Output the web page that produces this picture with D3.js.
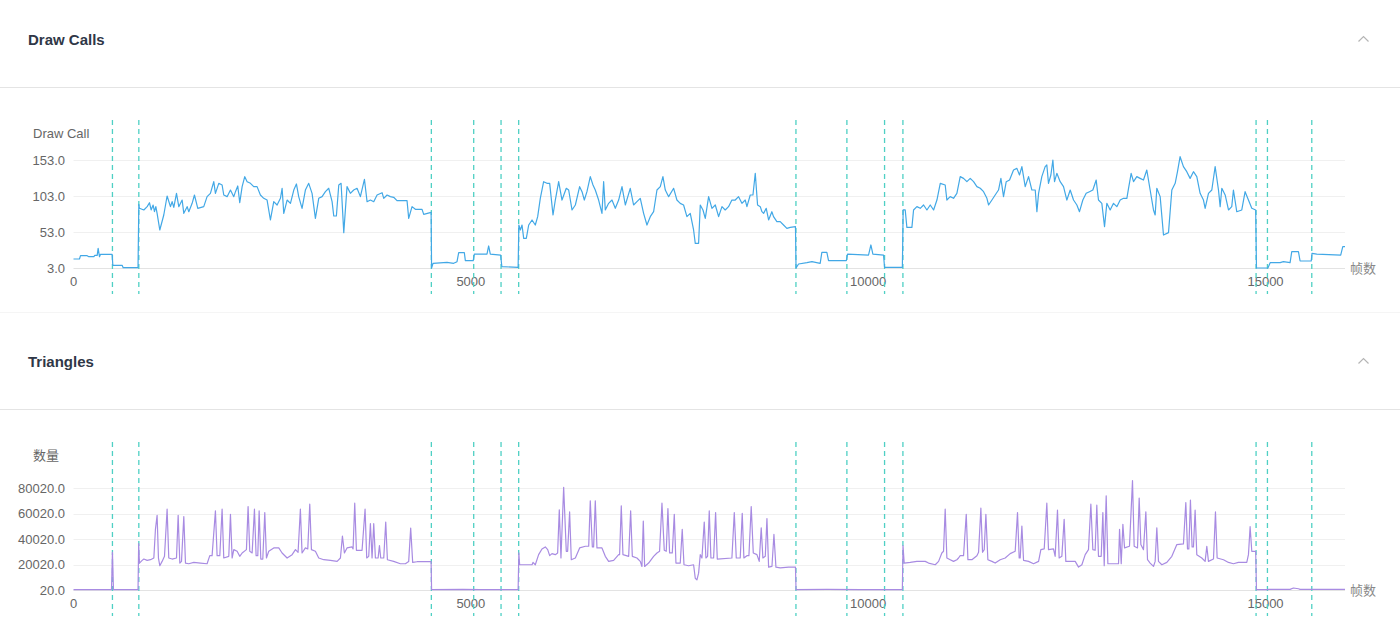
<!DOCTYPE html>
<html>
<head>
<meta charset="utf-8">
<script src="https://cdn.jsdelivr.net/npm/d3@7/dist/d3.min.js"></script>
<style>
  html, body { margin: 0; padding: 0; background: #fff; }
  svg { display: block; }
  text { font-family: "Liberation Sans", Arial, "Noto Sans CJK SC", sans-serif; }
</style>
</head>
<body>
<svg id="chart" width="1400" height="625"></svg>
<script>
// ---------------- data ----------------
const frameTicks = [0, 5000, 10000, 15000];
const frameMax = 16000;
const markerFrames = [490, 822, 4503, 5036, 5380, 5602, 9091, 9732, 10206, 10437, 14881, 15024, 15582];

const drawCallTicks = [3, 53, 103, 153];
const triangleTicks = [20, 20020, 40020, 60020, 80020];

const panelTitles = ["Draw Calls", "Triangles"];
const yAxisNames = ["Draw Call", "数量"];
const xAxisName = "帧数";

// [frame, draw calls]
const drawCallData = [
[0,15.5],[75,15.5],[88,20.1],[172,20.1],[193,18.7],[256,18.7],[268,20.6],[298,20.6],[310,30.3],[327,18.7],[340,22],[486,22],[495,6.7],[612,6.7],[625,3.5],[812,3.5],[822,91.4],[830,85.9],[885,83.6],[927,88.2],[956,93.7],[977,83.6],[1002,90.5],[1019,81.2],[1036,88.2],[1052,78.9],[1086,55.8],[1136,76.6],[1178,103],[1220,88.2],[1241,95.1],[1262,87.3],[1296,106.7],[1325,88.2],[1367,97.4],[1388,78.9],[1430,88.2],[1451,81.2],[1493,92.8],[1522,104.4],[1564,85.9],[1639,88.2],[1681,102.1],[1723,106.7],[1765,122.9],[1786,106.7],[1828,120.6],[1870,118.3],[1891,104.4],[1933,102.1],[1975,111.3],[2017,102.1],[2038,109],[2067,116.9],[2092,93.7],[2122,116],[2155,129.9],[2185,122.9],[2227,120.6],[2268,116],[2310,116],[2352,104.4],[2394,99.8],[2436,97.4],[2478,69.7],[2520,95.1],[2562,90.5],[2604,99.8],[2625,113.7],[2646,78.9],[2688,97.4],[2730,92.8],[2772,111.3],[2805,119.7],[2834,102.1],[2876,85.9],[2918,111.3],[2960,120.6],[3002,106.7],[3044,72],[3086,99.8],[3128,102.1],[3170,109],[3212,113.7],[3254,95.1],[3275,75.2],[3308,75.2],[3338,118.3],[3367,120.6],[3401,52.1],[3442,116],[3484,106.7],[3526,111.3],[3568,113.7],[3610,102.1],[3661,126.2],[3694,95.1],[3736,97.4],[3778,95.1],[3820,104.4],[3883,107.6],[3904,99.8],[3946,104.4],[3987,102.1],[4029,101.2],[4071,96.5],[4197,96.5],[4218,72],[4260,88.2],[4302,84.5],[4386,84.5],[4407,77.5],[4500,80.3],[4506,3],[4524,9.5],[4700,10.9],[4784,9.5],[4826,11.8],[4847,24.3],[4918,24.3],[4931,13.2],[5030,13.2],[5044,22.4],[5203,22.4],[5224,33.6],[5245,22.4],[5375,21],[5390,4.9],[5595,3.9],[5604,62.7],[5623,55.8],[5644,62.7],[5665,44.2],[5698,44.2],[5728,62.7],[5770,69.7],[5811,62.7],[5841,74.3],[5874,99.8],[5916,122.9],[5958,120.6],[5992,120.6],[6034,76.6],[6063,97.4],[6105,122.9],[6147,97.4],[6201,113.7],[6231,111.3],[6273,83.6],[6315,90.5],[6369,116],[6399,109],[6428,97.4],[6461,109],[6503,129.9],[6537,118.3],[6566,111.3],[6608,97.4],[6650,78.9],[6671,122.9],[6692,83.6],[6734,92.8],[6776,97.4],[6818,85.9],[6860,97.4],[6902,116],[6944,90.5],[7006,113.7],[7048,90.5],[7090,95.1],[7132,99.8],[7174,78.9],[7216,62.7],[7258,74.3],[7300,81.2],[7342,111.3],[7384,116],[7417,129.9],[7447,111.3],[7489,102.1],[7552,113.7],[7593,97.4],[7635,92.8],[7677,90.5],[7719,74.3],[7761,78.9],[7803,55.8],[7824,37.3],[7866,37.3],[7887,90.5],[7921,83.6],[7950,72],[7992,102.1],[8034,85.9],[8076,90.5],[8118,74.3],[8160,88.2],[8201,83.6],[8243,88.2],[8285,97.4],[8327,97.4],[8369,102.1],[8411,92.8],[8453,97.4],[8474,88.2],[8516,104.4],[8550,104.4],[8579,134.5],[8608,90.5],[8642,88.2],[8663,81.2],[8684,78.9],[8717,85.9],[8747,69.7],[8788,81.2],[8809,74.3],[8851,67.4],[8893,67.4],[8935,62.7],[8977,58.1],[9019,59.5],[9085,60.4],[9092,3],[9124,8.6],[9229,10.4],[9292,11.8],[9396,9.5],[9417,24.8],[9480,24.8],[9501,13.2],[9725,13.2],[9740,22.4],[10004,21],[10034,35],[10059,22.4],[10193,21],[10206,3.9],[10430,3.9],[10440,83.6],[10466,83.6],[10487,59.5],[10550,59.5],[10571,83.6],[10613,88.2],[10655,85.9],[10697,90.5],[10739,83.6],[10781,90.5],[10823,83.6],[10865,97.4],[10907,120.6],[10969,118.3],[10990,97.4],[11032,102.1],[11074,99.8],[11116,106.7],[11158,129.9],[11200,127.5],[11242,122.9],[11284,127.5],[11326,122.9],[11368,116],[11410,113.7],[11452,109],[11494,99.8],[11515,90.5],[11557,97.4],[11598,104.4],[11640,111.3],[11670,127.5],[11703,102.1],[11737,122.9],[11779,125.2],[11829,139.1],[11871,141.4],[11904,132.2],[11934,143.8],[11976,116],[12018,129.9],[12060,111.3],[12102,111.3],[12123,81.2],[12144,106.7],[12185,129.9],[12227,143.8],[12248,146.1],[12269,120.6],[12299,132.2],[12324,153],[12345,122.9],[12374,134.5],[12416,122.9],[12458,116],[12500,97.4],[12542,111.3],[12584,97.4],[12626,90.5],[12659,81.2],[12701,97.4],[12743,106.7],[12785,109],[12827,111.3],[12869,125.2],[12898,97.4],[12940,92.8],[12974,60.4],[13003,92.8],[13045,83.6],[13087,92.8],[13129,88.2],[13171,97.4],[13213,99.8],[13255,99.8],[13276,113.7],[13309,134.5],[13339,122.9],[13380,129.9],[13422,127.5],[13464,125.2],[13506,139.1],[13548,111.3],[13590,83.6],[13611,76.6],[13632,113.7],[13674,102.1],[13716,48.8],[13779,52.1],[13821,111.3],[13863,120.6],[13892,136.8],[13925,157.6],[13967,143.8],[14009,136.8],[14051,127.5],[14093,136.8],[14135,129.9],[14177,106.7],[14219,97.4],[14240,85.9],[14282,106.7],[14324,111.3],[14366,143.8],[14408,111.3],[14429,88.2],[14450,113.7],[14492,104.4],[14534,83.6],[14575,88.2],[14596,111.3],[14638,81.2],[14701,83.6],[14743,109],[14785,97.4],[14827,85.9],[14876,83.6],[14886,3],[15030,3],[15058,10.4],[15184,10.4],[15225,11.8],[15309,10.4],[15330,25.7],[15414,25.7],[15435,12.7],[15575,12.7],[15585,23.4],[15645,22.4],[15946,21],[15972,32.6],[16000,32.6]
];

// [frame, triangles]
const triangleData = [
[0,300],[478,300],[490,29500],[503,300],[812,300],[820,36450],[830,21140],[864,23250],[885,24300],[927,23250],[969,23780],[1011,25100],[1031,47540],[1052,58630],[1069,25100],[1086,19030],[1115,22460],[1145,26420],[1178,63380],[1199,25100],[1241,24300],[1296,25100],[1317,58630],[1338,21140],[1359,22460],[1388,57570],[1409,21140],[1451,20610],[1514,21660],[1598,21140],[1681,20610],[1715,26950],[1744,26950],[1786,62060],[1807,26950],[1841,26950],[1870,63380],[1891,25100],[1954,26420],[1975,59420],[1996,25100],[2017,31700],[2059,30380],[2092,26420],[2122,29060],[2176,31700],[2197,65490],[2218,30380],[2248,29060],[2277,63380],[2298,26950],[2319,26950],[2336,62060],[2357,24300],[2382,24300],[2407,60740],[2428,25100],[2457,30380],[2520,33020],[2583,33020],[2625,29060],[2688,25100],[2751,27740],[2793,31700],[2826,29590],[2855,63380],[2876,29060],[2918,33020],[2948,32230],[2973,67340],[2994,31700],[3044,30380],[3086,25100],[3149,23780],[3233,23250],[3317,22460],[3359,25100],[3384,42260],[3409,29060],[3442,33020],[3505,33810],[3518,32230],[3539,68130],[3560,31170],[3631,31170],[3669,63380],[3690,25100],[3715,26420],[3736,52030],[3757,25100],[3778,52030],[3799,25100],[3833,25100],[3850,34870],[3866,25100],[3904,25100],[3929,53350],[3950,23780],[4029,22460],[4113,20610],[4176,20610],[4218,22460],[4243,48600],[4268,21660],[4323,22200],[4500,22200],[4506,300],[4900,550],[5120,300],[5595,300],[5604,29060],[5614,19820],[5770,19820],[5782,21660],[5811,19820],[5853,27740],[5895,32230],[5937,33810],[5967,31700],[5992,26950],[6021,28530],[6063,27740],[6092,29060],[6113,62850],[6134,25100],[6168,80540],[6201,30380],[6218,30380],[6243,61270],[6264,23780],[6315,25100],[6369,33020],[6441,34340],[6483,34340],[6503,69980],[6529,33810],[6545,33810],[6566,69980],[6587,33020],[6650,33020],[6692,26420],[6734,22460],[6797,23250],[6860,27740],[6872,27740],[6893,66020],[6914,27740],[6986,26420],[7011,62060],[7032,26420],[7090,25100],[7132,22460],[7153,18500],[7170,54140],[7187,18500],[7237,21140],[7300,26420],[7342,29060],[7375,30380],[7405,68130],[7434,31170],[7459,30380],[7480,63910],[7501,29060],[7535,29060],[7560,59420],[7581,21140],[7635,21140],[7660,47540],[7682,19820],[7740,19030],[7803,19820],[7824,9260],[7845,7940],[7866,13220],[7887,27740],[7908,25100],[7937,53350],[7958,25100],[7979,26420],[8000,62060],[8021,25100],[8055,25100],[8080,60740],[8101,24300],[8285,25100],[8315,60740],[8340,25100],[8390,25100],[8415,60210],[8436,25100],[8474,26950],[8499,26950],[8528,65490],[8554,29060],[8600,27740],[8629,22460],[8654,48860],[8675,25100],[8705,26420],[8726,55990],[8747,17970],[8789,18500],[8814,43580],[8839,17970],[8893,17440],[8998,17970],[9085,17970],[9092,300],[9480,550],[9900,300],[10430,300],[10438,34870],[10453,21140],[10529,21660],[10613,22460],[10718,22460],[10760,21140],[10844,19820],[10886,22460],[10927,29060],[10948,30380],[10969,63380],[10990,25100],[11032,23780],[11074,22460],[11116,23780],[11137,25100],[11158,26950],[11200,26950],[11234,59420],[11255,23780],[11305,23780],[11368,26950],[11389,29590],[11418,64170],[11439,29590],[11460,31700],[11481,59420],[11506,23780],[11557,22460],[11598,21140],[11661,23780],[11724,25100],[11787,28530],[11850,30380],[11879,60740],[11900,25100],[11913,25100],[11934,50180],[11955,23250],[12018,22460],[12081,20610],[12144,22460],[12173,31700],[12215,32230],[12248,68130],[12269,31700],[12332,32230],[12353,26420],[12382,62590],[12403,25100],[12437,26420],[12466,55460],[12487,22460],[12605,22460],[12647,17970],[12689,19820],[12731,27740],[12772,31700],[12802,67340],[12827,31700],[12856,31170],[12877,66550],[12898,26420],[12932,26420],[12953,60740],[12970,19030],[12995,73940],[13016,20610],[13150,20610],[13163,47540],[13184,20610],[13205,51500],[13226,33020],[13288,34340],[13326,85820],[13347,34340],[13389,33020],[13410,72090],[13431,35660],[13464,31700],[13494,61270],[13515,23780],[13548,21140],[13590,18500],[13611,22460],[13632,48860],[13653,22460],[13695,19820],[13758,21660],[13821,26420],[13884,35660],[13967,36190],[13997,68660],[14018,32230],[14035,32230],[14055,70510],[14076,33810],[14093,33810],[14114,62590],[14135,27740],[14198,25100],[14240,22460],[14261,34340],[14282,22460],[14345,24300],[14370,61270],[14391,25100],[14471,23780],[14534,21660],[14596,20610],[14659,21660],[14764,21660],[14785,27740],[14806,49650],[14827,30380],[14876,30380],[14886,300],[15030,300],[15040,550],[15309,550],[15351,1600],[15414,1000],[15435,550],[16000,550]
];

// ---------------- drawing ----------------
const svg = d3.select("#chart");
const W = 1400;

const panels = [
  { title: panelTitles[0], top: 0, data: drawCallData, ticks: drawCallTicks, yName: yAxisNames[0],
    color: "#42a8e6", tickStep: 50, pxPerStep: 36, axisY: 268, markTop: 120, markBottom: 294 },
  { title: panelTitles[1], top: 322, data: triangleData, ticks: triangleTicks, yName: yAxisNames[1],
    color: "#a88be2", tickStep: 20000, pxPerStep: 25.5, axisY: 590, markTop: 442, markBottom: 616 }
];

const plotLeft = 73.5, plotRight = 1345;
const x = d3.scaleLinear().domain([0, frameMax]).range([plotLeft, plotRight]);

panels.forEach(p => {
  const g = svg.append("g");
  // header
  g.append("text")
    .attr("x", 28).attr("y", p.top + 39)
    .attr("dominant-baseline", "central")
    .attr("font-size", 15).attr("font-weight", "bold")
    .attr("fill", "#2f3747")
    .text(p.title);
  g.append("polyline")
    .attr("points", `1358.5,${p.top + 41.5} 1363.5,${p.top + 36.5} 1368.5,${p.top + 41.5}`)
    .attr("fill", "none").attr("stroke", "#b5b5b5").attr("stroke-width", 1.2);
  g.append("line")
    .attr("x1", 0).attr("x2", W)
    .attr("y1", p.top + 87.5).attr("y2", p.top + 87.5)
    .attr("stroke", "#e4e4e4").attr("stroke-width", 1);

  const minV = p.ticks[0];
  const maxV = d3.max(p.data, d => d[1]);
  const y = d3.scaleLinear()
    .domain([minV, maxV])
    .range([p.axisY, p.axisY - (maxV - minV) / p.tickStep * p.pxPerStep]);

  // grid lines
  g.append("g").selectAll("line").data(p.ticks).join("line")
    .attr("x1", plotLeft).attr("x2", plotRight)
    .attr("y1", d => Math.round(y(d)) + 0.5).attr("y2", d => Math.round(y(d)) + 0.5)
    .attr("stroke", (d, i) => i === 0 ? "#e3e3e3" : "#f0f0f0").attr("stroke-width", 1);

  // y tick labels
  g.append("g").selectAll("text").data(p.ticks).join("text")
    .attr("x", 65).attr("y", d => y(d))
    .attr("text-anchor", "end").attr("dominant-baseline", "central")
    .attr("font-size", 13).attr("fill", "#666")
    .text(d => d3.format(".1f")(d));

  // y axis name
  g.append("text")
    .attr("x", 33).attr("y", p.axisY - 135)
    .attr("dominant-baseline", "central")
    .attr("font-size", 13).attr("fill", "#666")
    .text(p.yName);

  // x tick labels
  g.append("g").selectAll("text").data(frameTicks).join("text")
    .attr("x", d => x(d)).attr("y", p.axisY + 13)
    .attr("text-anchor", "middle").attr("dominant-baseline", "central")
    .attr("font-size", 13).attr("fill", "#666")
    .text(d => d);

  // x axis name
  g.append("text")
    .attr("x", plotRight + 5).attr("y", p.axisY)
    .attr("dominant-baseline", "central")
    .attr("font-size", 13).attr("fill", "#888")
    .text(xAxisName);

  // marker lines
  g.append("g").selectAll("line").data(markerFrames).join("line")
    .attr("x1", d => x(d)).attr("x2", d => x(d))
    .attr("y1", p.markTop).attr("y2", p.markBottom)
    .attr("stroke", "#4fd0c4").attr("stroke-width", 1.3)
    .attr("stroke-dasharray", "5,4");

  // series line
  const line = d3.line().x(d => x(d[0])).y(d => y(d[1]));
  g.append("path")
    .datum(p.data)
    .attr("d", line)
    .attr("fill", "none")
    .attr("stroke", p.color)
    .attr("stroke-width", 1.2)
    .attr("stroke-linejoin", "round");
});

// faint panel boundary
svg.append("line").attr("x1", 0).attr("x2", W).attr("y1", 312.5).attr("y2", 312.5)
  .attr("stroke", "#f5f5f5").attr("stroke-width", 1);
</script>
</body>
</html>
